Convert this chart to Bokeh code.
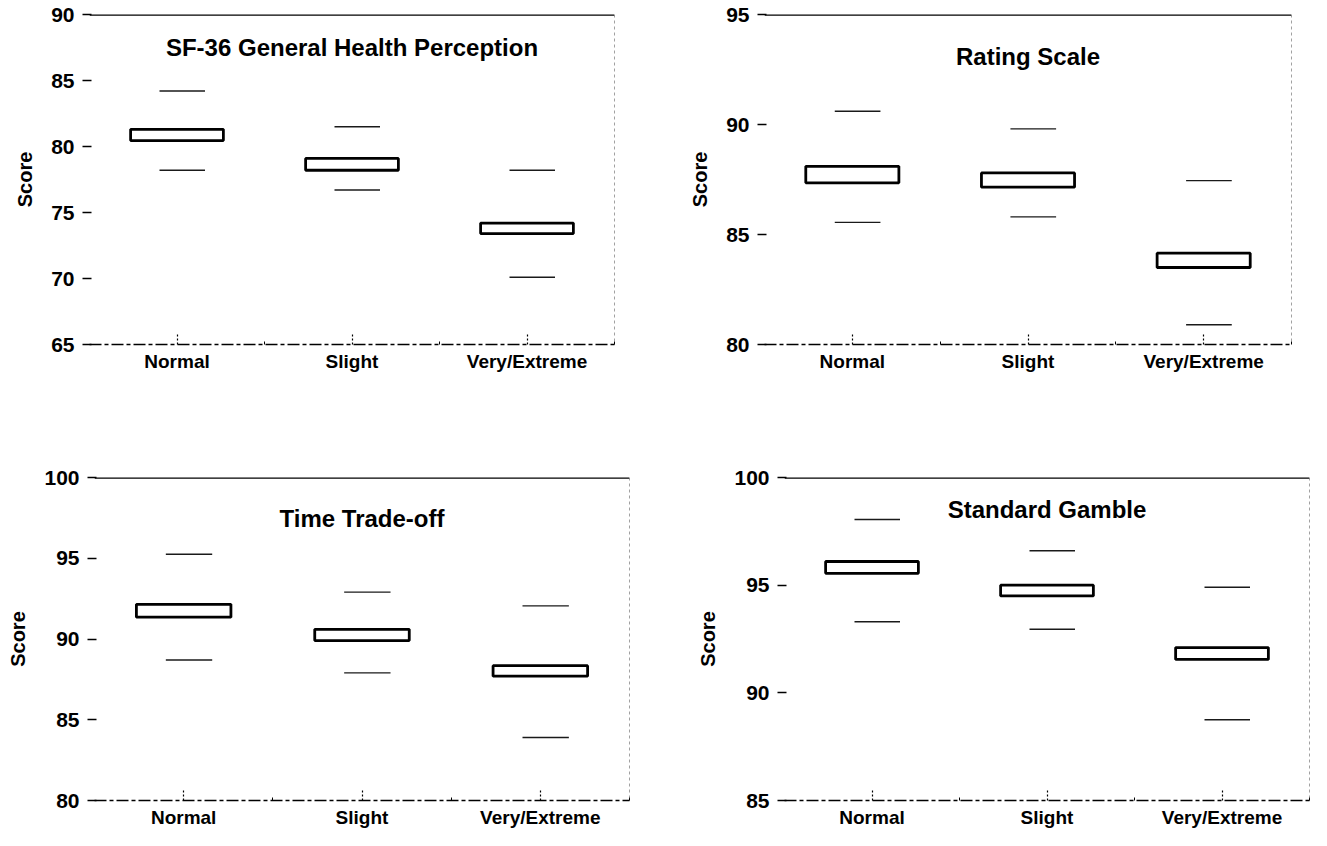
from bokeh.plotting import figure
from bokeh.layouts import column, row
from bokeh.models import FixedTicker, Span, Label, ColumnDataSource
from bokeh.embed import file_html
from bokeh.resources import INLINE

# ---------------- data ----------------
categories = ["Normal", "Slight", "Very/Extreme"]
cat_pos = [1, 2, 3]

titles = ["SF-36 General Health Perception", "Rating Scale",
          "Time Trade-off", "Standard Gamble"]
y_axis_title = "Score"

sf36_box_low = [80.45, 78.2, 73.4]
sf36_box_high = [81.3, 79.1, 74.2]
sf36_ci_low = [78.2, 76.7, 70.1]
sf36_ci_high = [84.2, 81.5, 78.2]

rs_box_low = [87.35, 87.15, 83.5]
rs_box_high = [88.1, 87.8, 84.15]
rs_ci_low = [85.55, 85.8, 80.9]
rs_ci_high = [90.6, 89.8, 87.45]

tto_box_low = [91.35, 89.9, 87.7]
tto_box_high = [92.15, 90.6, 88.35]
tto_ci_low = [88.7, 87.9, 83.9]
tto_ci_high = [95.25, 92.9, 92.05]

sg_box_low = [95.55, 94.5, 91.55]
sg_box_high = [96.1, 95.0, 92.1]
sg_ci_low = [93.3, 92.95, 88.75]
sg_ci_high = [98.05, 96.6, 94.9]

y_ranges = [(65, 90), (80, 95), (80, 100), (85, 100)]
y_ticks = [[65, 70, 75, 80, 85, 90], [80, 85, 90, 95],
           [80, 85, 90, 95, 100], [85, 90, 95, 100]]
title_y = [87.5, 93.1, 97.45, 98.5]

series = [
    (sf36_box_low, sf36_box_high, sf36_ci_low, sf36_ci_high),
    (rs_box_low, rs_box_high, rs_ci_low, rs_ci_high),
    (tto_box_low, tto_box_high, tto_ci_low, tto_ci_high),
    (sg_box_low, sg_box_high, sg_ci_low, sg_ci_high),
]

# ---------------- layout / style ----------------
# (width, height, border_left, border_right, border_top, border_bottom)
geom = [
    (652, 392, 89, 38, 14, 48),
    (658, 392, 112, 19, 13, 41),
    (652, 438, 94, 23, 71, 30),
    (658, 438, 132, 1, 85, 30),
]
FONT = "Liberation Sans"
BOX_HALF = 0.265
DASH_L, DASH_R = 0.10, 0.16


def make_panel(i):
    w, h, bl, br, bt, bb = geom[i]
    y0, y1 = y_ranges[i]
    p = figure(width=w, height=h, x_range=(0.5, 3.5), y_range=(y0, y1),
               output_backend="svg", toolbar_location=None,
               min_border_left=bl, min_border_right=br,
               min_border_top=bt, min_border_bottom=bb)
    p.outline_line_color = None
    p.grid.visible = False
    p.background_fill_color = "white"
    p.border_fill_color = "white"

    blo, bhi, clo, chi = series[i]
    src = ColumnDataSource(dict(
        left=[c - BOX_HALF for c in cat_pos],
        right=[c + BOX_HALF for c in cat_pos],
        bottom=blo, top=bhi,
        dx0=[c - DASH_L for c in cat_pos],
        dx1=[c + DASH_R for c in cat_pos],
        lo=clo, hi=chi,
    ))
    p.segment(x0="dx0", x1="dx1", y0="hi", y1="hi", source=src,
              line_color="#1a1a1a", line_width=1.4)
    p.segment(x0="dx0", x1="dx1", y0="lo", y1="lo", source=src,
              line_color="#1a1a1a", line_width=1.4)
    p.quad(left="left", right="right", bottom="bottom", top="top",
           source=src, fill_color="white", line_color="black",
           line_width=2.8)

    # frame lines
    p.add_layout(Span(location=y1, dimension="width", line_color="black",
                      line_width=2.4))
    p.add_layout(Span(location=3.5, dimension="height", line_color="#444444",
                      line_width=1, line_dash="3 3"))

    # x axis
    xa = p.xaxis[0]
    xa.ticker = FixedTicker(ticks=cat_pos, minor_ticks=[1.5, 2.5, 3.5])
    xa.major_label_overrides = {c: n for c, n in zip(cat_pos, categories)}
    xa.axis_line_color = "black"
    xa.axis_line_width = 1.5
    xa.axis_line_dash = "12 3 4 3"
    xa.major_tick_in = 11
    xa.major_tick_out = 0
    xa.major_tick_line_dash = "2 2"
    xa.major_tick_line_width = 1.2
    xa.minor_tick_in = 3
    xa.minor_tick_out = 0
    xa.major_label_standoff = 6
    xa.major_label_text_font = FONT
    xa.major_label_text_font_style = "bold"
    xa.major_label_text_font_size = "19px"
    xa.major_label_text_color = "black"

    # y axis
    ya = p.yaxis[0]
    ya.ticker = FixedTicker(ticks=y_ticks[i], minor_ticks=[])
    ya.axis_line_color = None
    ya.major_tick_in = 2
    ya.major_tick_out = 7
    ya.major_tick_line_width = 1.5
    ya.major_label_standoff = 8
    ya.major_label_text_font = FONT
    ya.major_label_text_font_style = "bold"
    ya.major_label_text_font_size = "21px"
    ya.major_label_text_color = "black"
    ya.axis_label = y_axis_title
    ya.axis_label_text_font = FONT
    ya.axis_label_text_font_style = "bold"
    ya.axis_label_text_font_size = "20px"
    ya.axis_label_text_color = "black"
    ya.axis_label_standoff = 12

    p.add_layout(Label(x=2, y=title_y[i], text=titles[i], text_align="center",
                       text_baseline="middle", text_font=FONT,
                       text_font_style="bold", text_font_size="24px",
                       text_color="black"))
    return p


panels = [make_panel(i) for i in range(4)]
layout = column(row(panels[0], panels[1], spacing=0),
                row(panels[2], panels[3], spacing=0), spacing=0)

open("out.html", "w").write(file_html(layout, INLINE))
